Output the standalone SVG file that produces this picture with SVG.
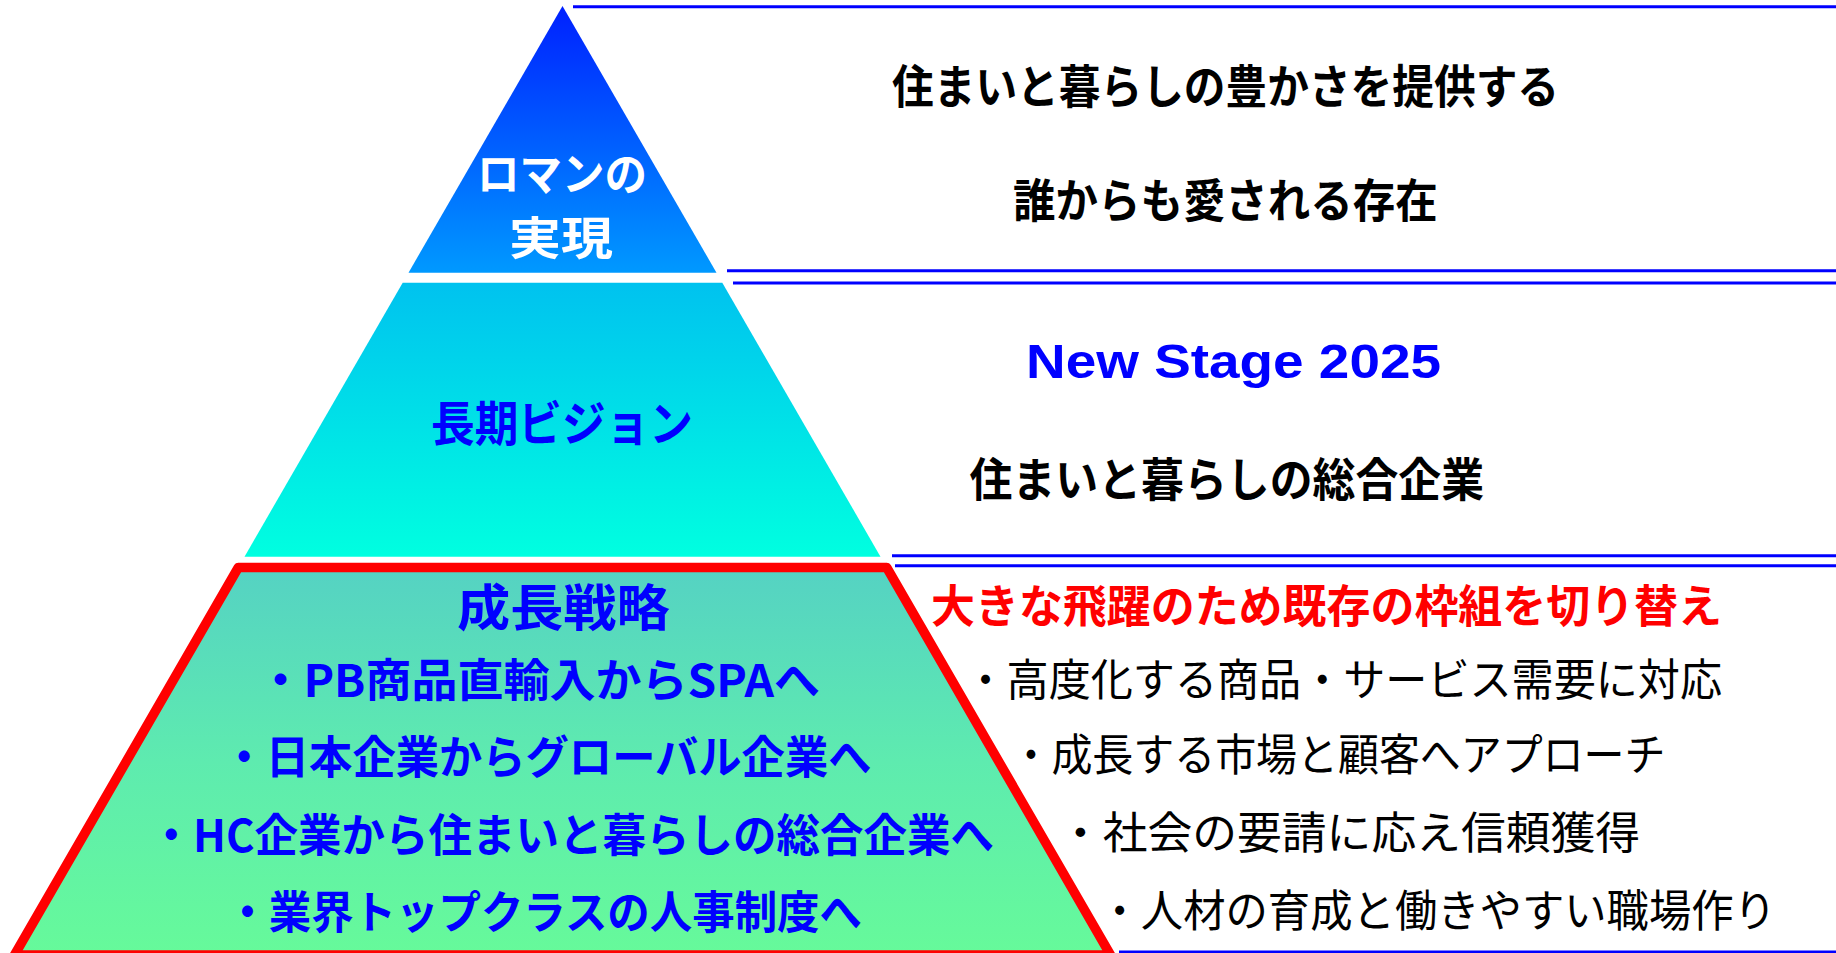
<svg xmlns="http://www.w3.org/2000/svg" width="1836" height="953" viewBox="0 0 1836 953">
  <defs>
    <linearGradient id="gTop" x1="0" y1="0" x2="0" y2="1">
      <stop offset="0" stop-color="#0020FF"/>
      <stop offset="1" stop-color="#0099FF"/>
    </linearGradient>
    <linearGradient id="gMid" x1="0" y1="0" x2="0" y2="1">
      <stop offset="0" stop-color="#00C2EF"/>
      <stop offset="1" stop-color="#00FFE0"/>
    </linearGradient>
    <linearGradient id="gBot" x1="0" y1="0" x2="0" y2="1">
      <stop offset="0" stop-color="#55D2C3"/>
      <stop offset="0.5" stop-color="#5EEBAF"/>
      <stop offset="1" stop-color="#66FA9A"/>
    </linearGradient>
  </defs>
  <style>
    .jp { font-family: "Noto Sans CJK JP", "Noto Sans CJK SC", sans-serif; dominant-baseline: central; }
    .b { font-weight: 700; }
    .r { font-weight: 400; }
    .white { fill: #FFFFFF; }
    .blue { fill: #0000FF; }
    .black { fill: #000000; }
    .red { fill: #FF0000; }
    .sep { stroke: #0000FF; stroke-width: 3; fill: none; }
  </style>
  <rect width="1836" height="953" fill="#FFFFFF"/>

  <g id="separators">
    <line class="sep" x1="573" y1="6.7" x2="1836" y2="6.7"/>
    <line class="sep" x1="727" y1="270.7" x2="1836" y2="270.7"/>
    <line class="sep" x1="733" y1="283" x2="1836" y2="283"/>
    <line class="sep" x1="892" y1="555.7" x2="1836" y2="555.7"/>
    <line class="sep" x1="895" y1="565.7" x2="1836" y2="565.7"/>
    <line class="sep" x1="1119" y1="952" x2="1836" y2="952"/>
  </g>

  <g id="roman">
    <polygon points="562.5,6 716.5,272.7 408.5,272.7" fill="url(#gTop)"/>
    <text class="jp b white" x="562" y="171" font-size="45" text-anchor="middle" textLength="170" lengthAdjust="spacingAndGlyphs">ロマンの</text>
    <text class="jp b white" x="561" y="235" font-size="45" text-anchor="middle" textLength="104" lengthAdjust="spacingAndGlyphs">実現</text>
  </g>

  <g id="vision">
    <polygon points="402.7,282.7 722.3,282.7 880.5,556.7 244.5,556.7" fill="url(#gMid)"/>
    <text class="jp b blue" x="562" y="420" font-size="48" text-anchor="middle" textLength="262" lengthAdjust="spacingAndGlyphs">長期ビジョン</text>
  </g>

  <g id="strategy">
    <polygon points="238.3,567.5 886.7,567.5 1110.5,955 14.5,955" fill="url(#gBot)" stroke="#FF0000" stroke-width="9.5" stroke-linejoin="round"/>
    <text class="jp b blue" x="457" y="604" font-size="50" textLength="212.7" lengthAdjust="spacingAndGlyphs">成長戦略</text>
    <text class="jp b blue" x="257.4" y="677" font-size="45" textLength="562.6" lengthAdjust="spacingAndGlyphs">・PB商品直輸入からSPAへ</text>
    <text class="jp b blue" x="222.5" y="754" font-size="45" textLength="649" lengthAdjust="spacingAndGlyphs">・日本企業からグローバル企業へ</text>
    <text class="jp b blue" x="149.5" y="832" font-size="45" textLength="844.5" lengthAdjust="spacingAndGlyphs">・HC企業から住まいと暮らしの総合企業へ</text>
    <text class="jp b blue" x="226.3" y="909" font-size="45" textLength="635.7" lengthAdjust="spacingAndGlyphs">・業界トップクラスの人事制度へ</text>
  </g>

  <g id="roman-text">
    <text class="jp b black" x="892" y="82.5" font-size="46" textLength="667" lengthAdjust="spacingAndGlyphs">住まいと暮らしの豊かさを提供する</text>
    <text class="jp b black" x="1013" y="197" font-size="46" textLength="424.7" lengthAdjust="spacingAndGlyphs">誰からも愛される存在</text>
  </g>

  <g id="vision-text">
    <text x="1026" y="378.3" font-family="'Liberation Sans', Arial, sans-serif" font-weight="700" font-size="49" fill="#0000FF" textLength="415" lengthAdjust="spacingAndGlyphs">New Stage 2025</text>
    <text class="jp b black" x="969.5" y="476" font-size="46" textLength="514.5" lengthAdjust="spacingAndGlyphs">住まいと暮らしの総合企業</text>
  </g>

  <g id="strategy-text">
    <text class="jp b red" x="931" y="603" font-size="45" textLength="791" lengthAdjust="spacingAndGlyphs">大きな飛躍のため既存の枠組を切り替え</text>
    <text class="jp r black" x="964.5" y="677" font-size="44" textLength="757.5" lengthAdjust="spacingAndGlyphs">・高度化する商品・サービス需要に対応</text>
    <text class="jp r black" x="1010.5" y="752" font-size="44" textLength="655" lengthAdjust="spacingAndGlyphs">・成長する市場と顧客へアプローチ</text>
    <text class="jp r black" x="1058" y="830" font-size="44" textLength="582" lengthAdjust="spacingAndGlyphs">・社会の要請に応え信頼獲得</text>
    <text class="jp r black" x="1098.5" y="908" font-size="44" textLength="677.5" lengthAdjust="spacingAndGlyphs">・人材の育成と働きやすい職場作り</text>
  </g>
</svg>
